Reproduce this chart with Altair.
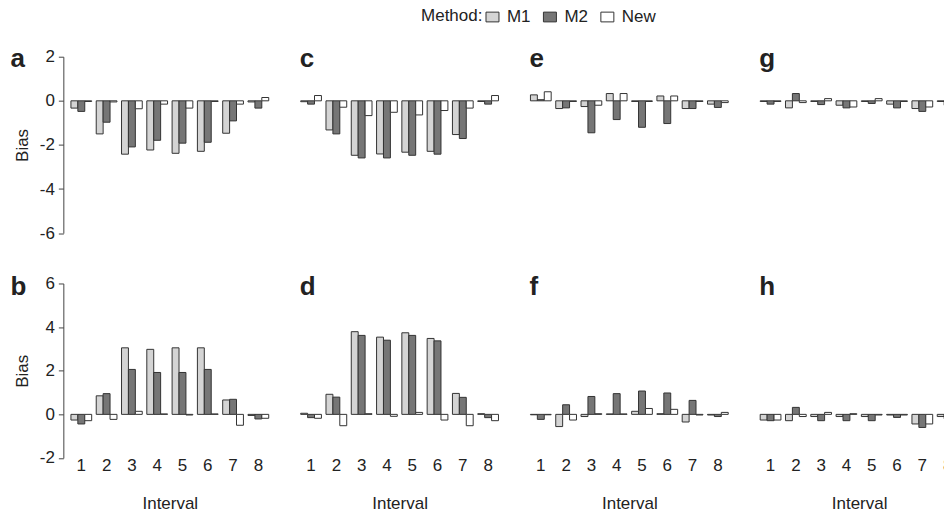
import altair as alt
import pandas as pd

FONT = "Liberation Sans, Arial, Helvetica, sans-serif"
TXT = "#222222"

intervals = [1, 2, 3, 4, 5, 6, 7, 8]
methods = ["M1", "M2", "New"]
fills = ["#d4d4d4", "#767676", "#ffffff"]

# panel values (M1, M2, New per interval)
panel_a = {"M1": [-0.33, -1.50, -2.42, -2.23, -2.38, -2.29, -1.47, -0.05],
           "M2": [-0.48, -0.97, -2.09, -1.79, -1.92, -1.88, -0.91, -0.33],
           "New": [-0.03, -0.05, -0.36, -0.15, -0.33, -0.03, -0.15, 0.15]}
panel_c = {"M1": [-0.04, -1.32, -2.47, -2.41, -2.33, -2.29, -1.53, -0.03],
           "M2": [-0.15, -1.50, -2.59, -2.59, -2.47, -2.42, -1.71, -0.15],
           "New": [0.24, -0.29, -0.67, -0.52, -0.64, -0.44, -0.33, 0.24]}
panel_e = {"M1": [0.27, -0.35, -0.26, 0.33, -0.03, 0.22, -0.35, -0.15],
           "M2": [0.05, -0.32, -1.45, -0.85, -1.20, -1.03, -0.35, -0.30],
           "New": [0.41, -0.03, -0.20, 0.33, -0.03, 0.22, -0.03, -0.08]}
panel_g = {"M1": [-0.03, -0.32, -0.03, -0.20, -0.03, -0.15, -0.35, -0.03],
           "M2": [-0.15, 0.33, -0.17, -0.32, -0.12, -0.32, -0.48, -0.20],
           "New": [-0.03, -0.08, 0.10, -0.28, 0.10, -0.03, -0.28, -0.10]}
panel_b = {"M1": [-0.26, 0.85, 3.05, 2.98, 3.05, 3.05, 0.66, -0.05],
           "M2": [-0.44, 0.95, 2.06, 1.92, 1.92, 2.06, 0.69, -0.21],
           "New": [-0.29, -0.23, 0.14, 0.02, -0.03, 0.02, -0.50, -0.18]}
panel_d = {"M1": [0.05, 0.92, 3.79, 3.54, 3.74, 3.48, 0.96, 0.03],
           "M2": [-0.15, 0.79, 3.62, 3.40, 3.62, 3.37, 0.78, -0.15],
           "New": [-0.18, -0.52, 0.03, -0.09, 0.09, -0.26, -0.52, -0.29]}
panel_f = {"M1": [-0.02, -0.56, -0.10, 0.02, 0.14, 0.03, -0.35, -0.03],
           "M2": [-0.23, 0.44, 0.82, 0.95, 1.07, 0.98, 0.64, -0.10],
           "New": [-0.02, -0.26, 0.03, 0.02, 0.27, 0.23, -0.03, 0.09]}
panel_h = {"M1": [-0.26, -0.29, -0.10, -0.10, -0.10, -0.03, -0.44, -0.10],
           "M2": [-0.29, 0.32, -0.29, -0.29, -0.29, -0.14, -0.60, -0.20],
           "New": [-0.26, -0.10, 0.09, 0.03, -0.03, -0.03, -0.44, -0.10]}

top_ticks = [-6, -4, -2, 0, 2]
bot_ticks = [-2, 0, 2, 4, 6]

W = 198
H_TOP = 176.6
H_BOT = 174.7


def make_panel(vals, letter, top, first):
    df = pd.DataFrame({
        "Interval": intervals * 3,
        "Method": [m for m in methods for _ in intervals],
        "Bias": vals["M1"] + vals["M2"] + vals["New"],
    })
    ydom = [-6, 2] if top else [-2, 6]
    if first:
        yaxis = alt.Axis(values=top_ticks if top else bot_ticks, tickSize=5,
                         tickColor="#444", domainColor="#444", labelFontSize=17,
                         labelColor=TXT, labelPadding=4, labelFlush=False,
                         labelExpr="'' + datum.value",
                         title="Bias", titleFontSize=17, titleFontWeight="normal",
                         titleColor=TXT, titlePadding=8, offset=7.6, grid=False)
    else:
        yaxis = None
    if top:
        xaxis = None
    else:
        xaxis = alt.Axis(labelAngle=0, domain=False, ticks=False, labelFontSize=17,
                         labelColor=TXT, labelPadding=0, title="Interval",
                         titleFontSize=17, titleFontWeight="normal", titleColor=TXT,
                         titlePadding=22, grid=False)
    if top and first:
        legend = alt.Legend(orient="none", legendX=350.5, legendY=-48.5,
                            direction="horizontal", columns=3, title="Method:",
                            titleOrient="left", titleFontSize=17,
                            titleFontWeight="normal", titleColor=TXT, titlePadding=1,
                            labelFontSize=17, labelColor=TXT, labelOffset=6,
                            columnPadding=10.5, symbolType="M-1,-0.75H1V0.75H-1Z",
                            symbolSize=169, symbolStrokeColor="#333",
                            symbolStrokeWidth=1, symbolOpacity=1, padding=0)
    else:
        legend = None
    bars = alt.Chart(df).mark_bar(stroke="#333333", strokeWidth=1).encode(
        x=alt.X("Interval:O", scale=alt.Scale(paddingInner=0.18, paddingOuter=0),
                axis=xaxis),
        xOffset=alt.XOffset("Method:N", sort=methods,
                            scale=alt.Scale(paddingInner=0, paddingOuter=0)),
        y=alt.Y("Bias:Q", scale=alt.Scale(domain=ydom, nice=False), axis=yaxis),
        color=alt.Color("Method:N", sort=methods,
                        scale=alt.Scale(domain=methods, range=fills), legend=legend),
    )
    lx = -60.5 if first else -1
    ly = 10 if top else 11.7
    lab = alt.Chart(pd.DataFrame({"t": [letter]})).mark_text(
        align="left", baseline="alphabetic", fontSize=26, fontWeight="bold",
        font=FONT, color=TXT
    ).encode(x=alt.value(lx), y=alt.value(ly), text="t:N")
    return alt.layer(bars, lab).properties(width=W, height=H_TOP if top else H_BOT)


panels = [
    make_panel(panel_a, "a", True, True),
    make_panel(panel_c, "c", True, False),
    make_panel(panel_e, "e", True, False),
    make_panel(panel_g, "g", True, False),
    make_panel(panel_b, "b", False, True),
    make_panel(panel_d, "d", False, False),
    make_panel(panel_f, "f", False, False),
    make_panel(panel_h, "h", False, False),
]

# the right-most column runs past the page edge in the figure: a negative right
# padding lets the drawing be cut there instead of shrinking the whole page
chart = alt.concat(
    *panels, columns=4, spacing={"row": 50, "column": 32}, bounds="flush"
).resolve_scale(
    x="independent", y="independent", color="independent"
).properties(
    padding={"left": 2, "top": -0.5, "right": -15, "bottom": 0}
).configure(font=FONT).configure_view(stroke=None)

chart.save("out.html", embed_options={"renderer": "svg", "actions": False})
